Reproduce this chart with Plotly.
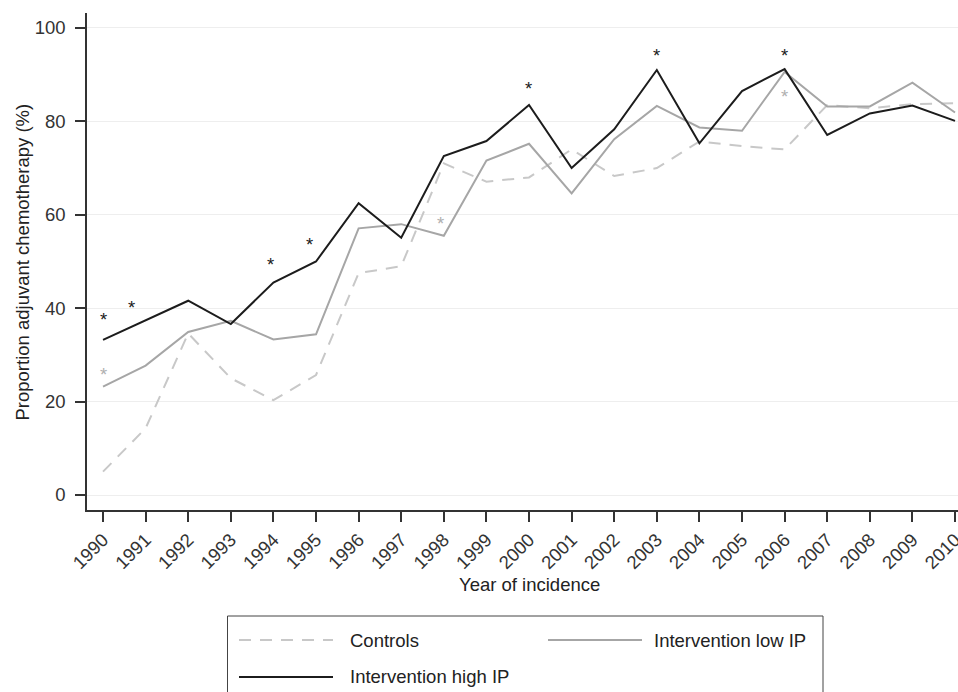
import plotly.graph_objects as go

# ---------------- data ----------------
years = list(range(1990, 2011))
year_labels = [str(y) for y in years]

controls = [5.0, 14.3, 34.6, 25.0, 20.3, 25.7, 47.5, 49.0, 71.0, 67.1, 68.0,
            74.0, 68.3, 70.0, 75.7, 74.7, 74.0, 83.5, 82.8, 83.7, 83.9]
low_ip = [23.2, 27.7, 34.9, 37.3, 33.3, 34.4, 57.1, 58.0, 55.5, 71.6, 75.2,
          64.6, 76.2, 83.3, 78.7, 78.0, 90.6, 83.2, 83.2, 88.3, 81.9]
high_ip = [33.2, 37.4, 41.6, 36.6, 45.5, 50.0, 62.5, 55.1, 72.6, 75.8, 83.5,
           70.0, 78.3, 91.0, 75.3, 86.5, 91.2, 77.1, 81.7, 83.4, 80.1]

# significance asterisks (position of the glyph)
star_high_x = [1990, 1990.67, 1993.93, 1994.84, 1999.98, 2003.0, 2006.0]
star_high_y = [38.2, 40.7, 50.1, 54.2, 87.6, 94.8, 94.8]
star_low_x = [1990, 1997.93, 2006.0]
star_low_y = [26.4, 58.7, 86.0]

y_ticks = [0, 20, 40, 60, 80, 100]

series_names = ["Controls", "Intervention low IP", "Intervention high IP"]

# ---------------- style ----------------
FONT = "Liberation Sans, Arial, Helvetica, sans-serif"
FS = 18.5
C_CTRL = "#c8c8c8"
C_LOW = "#a6a6a6"
C_HIGH = "#1c1c1c"
C_STAR_LOW = "#b0b0b0"
AX = "#333333"

fig = go.Figure()
fig.add_trace(go.Scatter(x=years, y=controls, mode="lines", name=series_names[0],
                         line=dict(color=C_CTRL, width=2, dash="12px,9px"),
                         showlegend=False))
fig.add_trace(go.Scatter(x=years, y=low_ip, mode="lines", name=series_names[1],
                         line=dict(color=C_LOW, width=2), showlegend=False))
fig.add_trace(go.Scatter(x=years, y=high_ip, mode="lines", name=series_names[2],
                         line=dict(color=C_HIGH, width=2), showlegend=False))

annotations = []
for x, y in zip(star_high_x, star_high_y):
    annotations.append(dict(x=x, y=y, xref="x", yref="y", text="*", showarrow=False,
                            font=dict(family=FONT, size=FS, color=C_HIGH),
                            xanchor="center", yanchor="middle", yshift=-3))
for x, y in zip(star_low_x, star_low_y):
    annotations.append(dict(x=x, y=y, xref="x", yref="y", text="*", showarrow=False,
                            font=dict(family=FONT, size=FS, color=C_STAR_LOW),
                            xanchor="center", yanchor="middle", yshift=-3))

# plot area in pixels: x 87..958, y 13..510
W, H = 958, 692
L, R, T, B = 87, 0, 13, 182
PW = W - L - R
PH = H - T - B


def px(xp):
    return (xp - L) / PW


def py(yp):
    return (H - B - yp) / PH


# axis titles
annotations.append(dict(x=px(529.5), y=py(584), xref="paper", yref="paper",
                        text="Year of incidence", showarrow=False,
                        font=dict(family=FONT, size=FS, color="#222"),
                        xanchor="center", yanchor="middle"))
annotations.append(dict(x=px(21.5), y=py(262), xref="paper", yref="paper",
                        text="Proportion adjuvant chemotherapy (%)", showarrow=False,
                        textangle=-90,
                        font=dict(family=FONT, size=FS, color="#222"),
                        xanchor="center", yanchor="middle"))

# legend (drawn manually to match long line samples)
shapes = [dict(type="rect", xref="paper", yref="paper",
               x0=px(227.5), x1=px(823), y0=py(616), y1=py(705),
               line=dict(color="#444", width=1), fillcolor="white", layer="below")]
legend_items = [
    (series_names[0], C_CTRL, "12px,9px", 239, 333, 348, 640),
    (series_names[1], C_LOW, "solid", 548, 642, 652, 640),
    (series_names[2], C_HIGH, "solid", 239, 333, 348, 677),
]
for name, col, dash, lx0, lx1, tx, ly in legend_items:
    shapes.append(dict(type="line", xref="paper", yref="paper",
                       x0=px(lx0), x1=px(lx1), y0=py(ly), y1=py(ly),
                       line=dict(color=col, width=2, dash=dash)))
    annotations.append(dict(x=px(tx), y=py(ly), xref="paper", yref="paper",
                            text=name, showarrow=False,
                            font=dict(family=FONT, size=FS, color="#222"),
                            xanchor="left", yanchor="middle"))

fig.update_layout(
    width=W, height=H,
    margin=dict(l=L, r=R, t=T, b=B, pad=0, autoexpand=False),
    paper_bgcolor="white", plot_bgcolor="white",
    font=dict(family=FONT, size=FS, color=AX),
    showlegend=False,
    annotations=annotations,
    shapes=shapes,
)
fig.update_xaxes(
    range=[1989.624, 2010.07], tickmode="array", tickvals=years, ticktext=year_labels,
    tickangle=-45, ticks="outside", ticklen=10, tickwidth=1.5, tickcolor=AX,
    showline=True, linecolor=AX, linewidth=1.5, showgrid=False, zeroline=False,
    tickfont=dict(family=FONT, size=FS, color=AX), ticklabeloverflow="allow",
    automargin=False,
)
fig.update_yaxes(
    range=[-3.21, 103.21], tickmode="array", tickvals=y_ticks,
    ticks="outside", ticklen=10, tickwidth=1.5, tickcolor=AX,
    showline=True, linecolor=AX, linewidth=1.5, showgrid=True, gridcolor="#eeeeee",
    gridwidth=1, zeroline=False, ticklabelstandoff=6,
    tickfont=dict(family=FONT, size=FS, color=AX), automargin=False,
)

fig.write_html(
    "out.html",
    config={"displayModeBar": False},
    post_script="document.body.style.margin='0';document.body.style.overflow='hidden';",
)
